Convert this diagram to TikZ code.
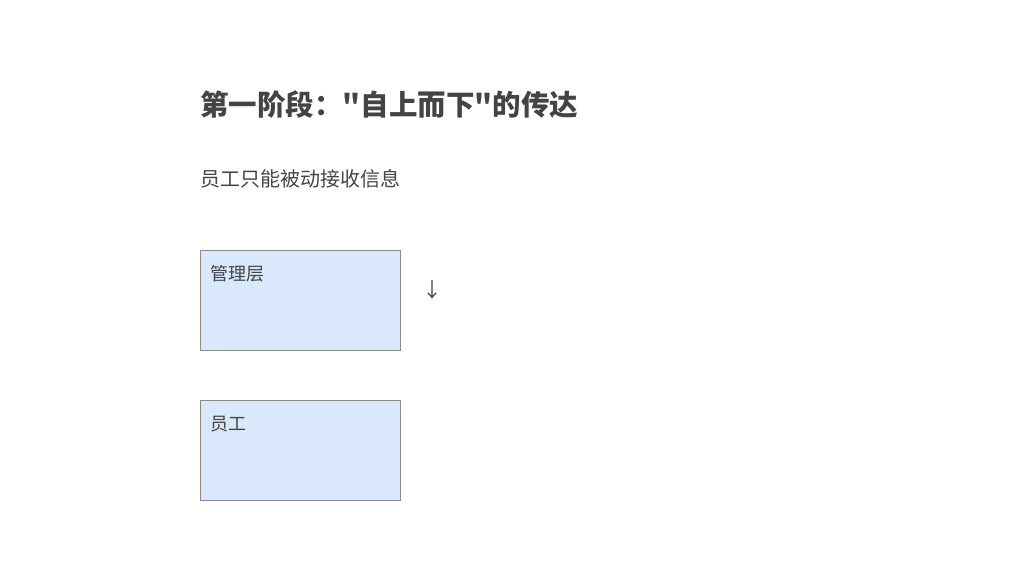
\documentclass[tikz,border=0pt]{standalone}
\usepackage{fontspec}
\newfontfamily\cjk{Noto Sans CJK SC}
\definecolor{boxfill}{HTML}{DAE8FC}
\definecolor{boxline}{HTML}{8A8A8A}
\definecolor{txt}{HTML}{444444}
\tikzset{
  layerbox/.style={draw=boxline, fill=boxfill, line width=1.2pt, minimum width=200pt, minimum height=100pt, anchor=north west, inner sep=0pt},
  layerlabel/.style={anchor=west, inner sep=0pt, text=txt, font=\cjk\fontsize{18}{20}\selectfont}
}
\begin{document}
\begin{tikzpicture}[x=1pt,y=-1pt]
\useasboundingbox (0,0) rectangle (1024,576);

% heading
\node[anchor=west, inner sep=0pt, text=txt, font=\cjk\fontsize{28.5}{32}\selectfont\bfseries] (title) at (200,105) {第一阶段："自上而下"的传达};
\node[anchor=west, inner sep=0pt, text=txt, font=\cjk\fontsize{20}{22}\selectfont] (subtitle) at (200,179) {员工只能被动接收信息};

% layers
\node[layerbox] (mgmt) at (200,250) {};
\node[layerlabel] (mgmtlabel) at (210,274) {管理层};

\node[layerbox] (staff) at (200,400) {};
\node[layerlabel] (stafflabel) at (210,424) {员工};

\node[inner sep=0pt, text=txt, font=\cjk\fontsize{20}{22}\selectfont] (arrow) at (432,290) {↓};

\end{tikzpicture}
\end{document}
